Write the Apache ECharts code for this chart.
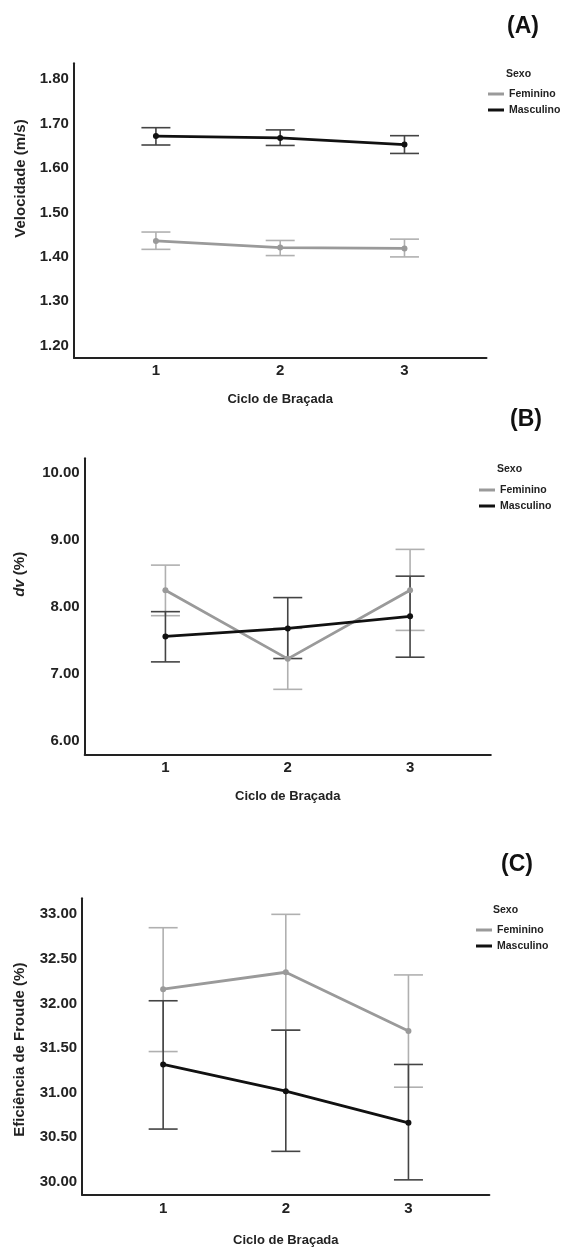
<!DOCTYPE html>
<html>
<head>
<meta charset="utf-8">
<script src="https://cdn.jsdelivr.net/npm/echarts@6/dist/echarts.min.js"></script>
<style>html,body{margin:0;padding:0;background:#fff;}#c{width:565px;height:1248px;}</style>
</head>
<body>
<div id="c"></div>
<script>
// ---- data ----
const categories = [1, 2, 3];
const xTickValues = [1, 2, 3];
const seriesNames = ['Feminino', 'Masculino'];

// (A) Velocidade (m/s)
const velTicks = [1.2, 1.3, 1.4, 1.5, 1.6, 1.7, 1.8];
const velFemMean = [1.436, 1.421, 1.419];
const velFemLow  = [1.417, 1.403, 1.400];
const velFemHigh = [1.456, 1.437, 1.440];
const velMascMean = [1.672, 1.668, 1.653];
const velMascLow  = [1.652, 1.651, 1.633];
const velMascHigh = [1.691, 1.686, 1.673];

// (B) dv (%)
const dvTicks = [6, 7, 8, 9, 10];
const dvFemMean = [8.25, 7.225, 8.25];
const dvFemLow  = [7.87, 6.77, 7.65];
const dvFemHigh = [8.625, 7.68, 8.86];
const dvMascMean = [7.56, 7.68, 7.86];
const dvMascLow  = [7.18, 7.23, 7.25];
const dvMascHigh = [7.93, 8.14, 8.46];

// (C) Eficiência de Froude (%)
const efTicks = [30, 30.5, 31, 31.5, 32, 32.5, 33];
const efFemMean = [32.16, 32.35, 31.69];
const efFemLow  = [31.46, 31.70, 31.06];
const efFemHigh = [32.85, 33.00, 32.32];
const efMascMean = [31.315, 31.015, 30.66];
const efMascLow  = [30.59, 30.34, 30.02];
const efMascHigh = [32.03, 31.70, 31.315];

// ---- styles ----
const FONT = "'Liberation Sans', Arial, sans-serif";
const FEM_LINE = '#9a9a9a';
const FEM_ERR = '#b0b0b0';
const MASC_LINE = '#111111';
const MASC_ERR = '#444444';

const panels = [
  { title: '(A)', titleX: 523, titleY: 27,
    grid: { left: 73.9, right: 78.5, top: 63.3, height: 294.4 },
    yMin: 1.173, yMax: 1.836, ticks: velTicks,
    yName: 'Velocidade (m/s)', yNameGap: 46, yPad: [0, 0, 0, 64],
    xNameGap: 35,
    legendLeft: 488, legendTop: 88, sexoLeft: 506, sexoTop: 69,
    fem: [velFemMean, velFemLow, velFemHigh], masc: [velMascMean, velMascLow, velMascHigh] },
  { title: '(B)', titleX: 526, titleY: 420,
    grid: { left: 84.7, right: 74.2, top: 458.3, height: 296 },
    yMin: 5.80, yMax: 10.22, ticks: dvTicks,
    yName: '{i|dv} (%)', yNameGap: 57, yPad: [0, 0, 0, 64],
    xNameGap: 36,
    legendLeft: 479, legendTop: 484, sexoLeft: 497, sexoTop: 464,
    fem: [dvFemMean, dvFemLow, dvFemHigh], masc: [dvMascMean, dvMascLow, dvMascHigh] },
  { title: '(C)', titleX: 517, titleY: 865,
    grid: { left: 82.2, right: 75.6, top: 898.3, height: 296.7 },
    yMin: 29.85, yMax: 33.18, ticks: efTicks,
    yName: 'Eficiência de Froude (%)', yNameGap: 54.7, yPad: [0, 6, 0, 0],
    xNameGap: 38.5,
    legendLeft: 476, legendTop: 924, sexoLeft: 493, sexoTop: 905,
    fem: [efFemMean, efFemLow, efFemHigh], masc: [efMascMean, efMascLow, efMascHigh] }
];

function errRender(color) {
  return function (params, api) {
    const x = api.value(0);
    const lo = api.coord([x, api.value(1)]);
    const hi = api.coord([x, api.value(2)]);
    const hw = 14.5;
    const style = { stroke: color, lineWidth: 1.6 };
    return {
      type: 'group',
      children: [
        { type: 'line', shape: { x1: hi[0], y1: hi[1], x2: lo[0], y2: lo[1] }, style: style },
        { type: 'line', shape: { x1: hi[0] - hw, y1: hi[1], x2: hi[0] + hw, y2: hi[1] }, style: style },
        { type: 'line', shape: { x1: lo[0] - hw, y1: lo[1], x2: lo[0] + hw, y2: lo[1] }, style: style }
      ]
    };
  };
}

const grids = [], xAxes = [], yAxes = [], series = [], titles = [], legends = [];

panels.forEach((p, i) => {
  grids.push(Object.assign({ containLabel: false }, p.grid));
  xAxes.push({
    type: 'value', gridIndex: i, min: 0.34, max: 3.66,
    name: 'Ciclo de Braçada', nameLocation: 'middle', nameGap: p.xNameGap,
    nameTextStyle: { fontFamily: FONT, fontWeight: 'bold', fontSize: 13, color: '#222' },
    axisLine: { show: true, onZero: false, lineStyle: { color: '#222', width: 2 } },
    axisTick: { show: false },
    splitLine: { show: false },
    axisLabel: { customValues: xTickValues, margin: 6, fontFamily: FONT, fontWeight: 'bold', fontSize: 15, color: '#222',
      formatter: v => String(Math.round(v)) }
  });
  yAxes.push({
    type: 'value', gridIndex: i, min: p.yMin, max: p.yMax,
    name: p.yName, nameLocation: 'middle', nameRotate: 90, nameGap: p.yNameGap,
    nameTextStyle: { fontFamily: FONT, fontWeight: 'bold', fontSize: 15, color: '#222', padding: p.yPad,
      rich: { i: { fontFamily: FONT, fontWeight: 'bold', fontStyle: 'italic', fontSize: 15, color: '#222' } } },
    axisLine: { show: true, onZero: false, lineStyle: { color: '#222', width: 2 } },
    axisTick: { show: false },
    splitLine: { show: false },
    axisLabel: { customValues: p.ticks, margin: 5, fontFamily: FONT, fontWeight: 'bold', fontSize: 15, color: '#222',
      formatter: v => v.toFixed(2) }
  });

  const groups = [
    { name: 'Feminino', d: p.fem, line: FEM_LINE, err: FEM_ERR },
    { name: 'Masculino', d: p.masc, line: MASC_LINE, err: MASC_ERR }
  ];
  groups.forEach(g => {
    series.push({
      type: 'custom', name: g.name + ' IC', xAxisIndex: i, yAxisIndex: i,
      renderItem: errRender(g.err), silent: true, z: 2,
      data: categories.map((c, k) => [c, g.d[1][k], g.d[2][k]])
    });
  });
  groups.forEach(g => {
    series.push({
      type: 'line', name: g.name, xAxisIndex: i, yAxisIndex: i, z: 3,
      symbol: 'circle', symbolSize: 6, showSymbol: true,
      lineStyle: { color: g.line, width: 2.8 },
      itemStyle: { color: g.line },
      data: categories.map((c, k) => [c, g.d[0][k]])
    });
  });

  titles.push({ text: p.title, left: p.titleX, top: p.titleY, padding: 0, textAlign: 'center', textVerticalAlign: 'middle',
    textStyle: { fontFamily: FONT, fontWeight: 'bold', fontSize: 23, color: '#111' } });
  titles.push({ text: 'Sexo', left: p.sexoLeft, top: p.sexoTop, padding: 0,
    textStyle: { fontFamily: FONT, fontWeight: 'bold', fontSize: 10.5, color: '#222' } });
  legends.push({
    data: seriesNames, orient: 'vertical', left: p.legendLeft, top: p.legendTop,
    icon: 'rect', itemWidth: 16, itemHeight: 3, itemGap: 4, padding: 0,
    selectedMode: false,
    textStyle: { fontFamily: FONT, fontWeight: 'bold', fontSize: 10.5, color: '#222', lineHeight: 12 }
  });
});

const chart = echarts.init(document.getElementById('c'), null, { renderer: 'canvas' });
chart.setOption({
  backgroundColor: '#ffffff',
  animation: false,
  title: titles,
  legend: legends,
  grid: grids,
  xAxis: xAxes,
  yAxis: yAxes,
  series: series
});
</script>
</body>
</html>
